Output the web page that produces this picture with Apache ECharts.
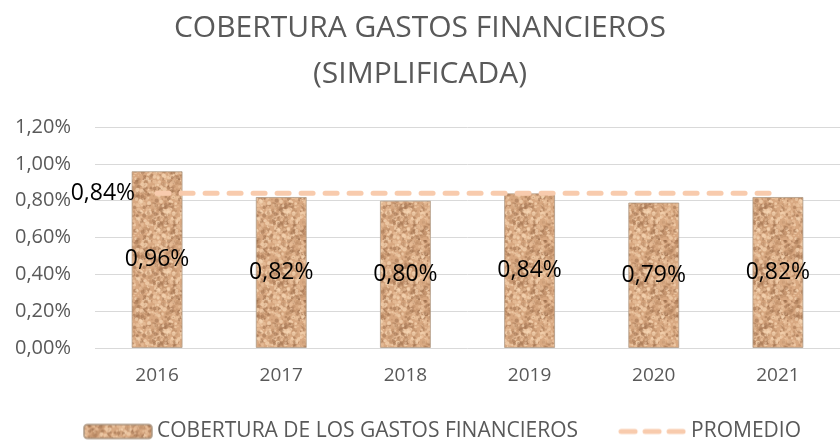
<!DOCTYPE html>
<html>
<head>
<meta charset="utf-8">
<script src="https://cdn.jsdelivr.net/npm/echarts@6/dist/echarts.min.js"></script>
<style>
  html, body { margin: 0; padding: 0; background: #fff; }
  #main { width: 840px; height: 441px; }
</style>
</head>
<body>
<div id="main"></div>
<script>
var years = ["2016", "2017", "2018", "2019", "2020", "2021"];
var cobertura = [0.96, 0.82, 0.80, 0.84, 0.79, 0.82];
var promedio = [0.84, 0.84, 0.84, 0.84, 0.84, 0.84];
var yTicks = [0, 0.2, 0.4, 0.6, 0.8, 1.0, 1.2];

// textura tipo arena para las barras
function sandTexture() {
  var c = document.createElement("canvas");
  c.width = 60;
  c.height = 60;
  var ctx = c.getContext("2d");
  ctx.fillStyle = "#d8a881";
  ctx.fillRect(0, 0, 60, 60);
  var seed = 7;
  function rnd() {
    seed = (seed * 16807) % 2147483647;
    return seed / 2147483647;
  }
  var cols = ["rgba(150,105,70,0.45)", "rgba(245,212,178,0.7)", "rgba(185,138,100,0.5)", "rgba(236,196,160,0.6)"];
  for (var i = 0; i < 700; i++) {
    ctx.fillStyle = cols[Math.floor(rnd() * cols.length)];
    var r = 0.6 + rnd() * 1.6;
    ctx.beginPath();
    ctx.arc(rnd() * 60, rnd() * 60, r, 0, Math.PI * 2);
    ctx.fill();
  }
  return c;
}

// icono de leyenda: línea discontinua
function dashIcon() {
  var c = document.createElement("canvas");
  c.width = 68;
  c.height = 14;
  var ctx = c.getContext("2d");
  ctx.strokeStyle = "#f8cbad";
  ctx.lineWidth = 5;
  ctx.lineCap = "round";
  ctx.setLineDash([14, 10]);
  ctx.beginPath();
  ctx.moveTo(3, 7);
  ctx.lineTo(65, 7);
  ctx.stroke();
  return "image://" + c.toDataURL();
}

var fmt = function (v) {
  return v.toFixed(2).replace(".", ",") + "%";
};

var myChart = echarts.init(document.getElementById("main"));
var option = {
  animation: false,
  textStyle: { fontFamily: "Open Sans" },
  title: {
    text: "COBERTURA GASTOS FINANCIEROS\n(SIMPLIFICADA)",
    left: "center",
    top: 0,
    textStyle: {
      color: "#595959",
      fontSize: 30,
      fontWeight: "normal",
      lineHeight: 46
    }
  },
  legend: {
    top: 416,
    left: 78,
    itemWidth: 68,
    itemHeight: 14,
    itemGap: 40,
    textStyle: { color: "#595959", fontSize: 21 },
    data: [
      { name: "COBERTURA DE LOS GASTOS FINANCIEROS" },
      { name: "PROMEDIO", icon: dashIcon() }
    ]
  },
  grid: {
    left: 95,
    top: 127,
    width: 756,
    height: 221,
    containLabel: false
  },
  xAxis: {
    type: "category",
    data: years,
    axisLine: { show: false },
    axisTick: { show: false },
    axisLabel: { color: "#595959", fontSize: 19, margin: 18 }
  },
  yAxis: {
    type: "value",
    min: yTicks[0],
    max: yTicks[yTicks.length - 1],
    interval: 0.2,
    axisLine: { show: false },
    axisTick: { show: false },
    axisLabel: { color: "#595959", fontSize: 20, margin: 24, formatter: fmt },
    splitLine: { lineStyle: { color: "#d9d9d9", width: 1 } }
  },
  series: [
    {
      name: "COBERTURA DE LOS GASTOS FINANCIEROS",
      type: "bar",
      barWidth: 51,
      data: cobertura,
      itemStyle: {
        color: { image: sandTexture(), repeat: "repeat" },
        borderColor: "rgba(170,150,130,0.7)",
        borderWidth: 1
      },
      label: {
        show: true,
        position: "inside",
        color: "#000",
        fontSize: 23,
        formatter: function (p) { return fmt(p.value); }
      }
    },
    {
      name: "PROMEDIO",
      type: "line",
      data: promedio,
      symbol: "none",
      z: 3,
      lineStyle: {
        color: "#f8cbad",
        width: 5,
        type: [12, 12],
        cap: "round"
      },
      itemStyle: { color: "#f8cbad" },
      markPoint: {
        symbol: "circle",
        symbolSize: 0,
        label: {
          show: true,
          position: "left",
          distance: 22,
          color: "#000",
          fontSize: 23,
          formatter: function (p) { return fmt(p.value); }
        },
        data: [{ coord: [0, promedio[0]], value: promedio[0] }]
      }
    }
  ]
};
myChart.setOption(option);
</script>
</body>
</html>
